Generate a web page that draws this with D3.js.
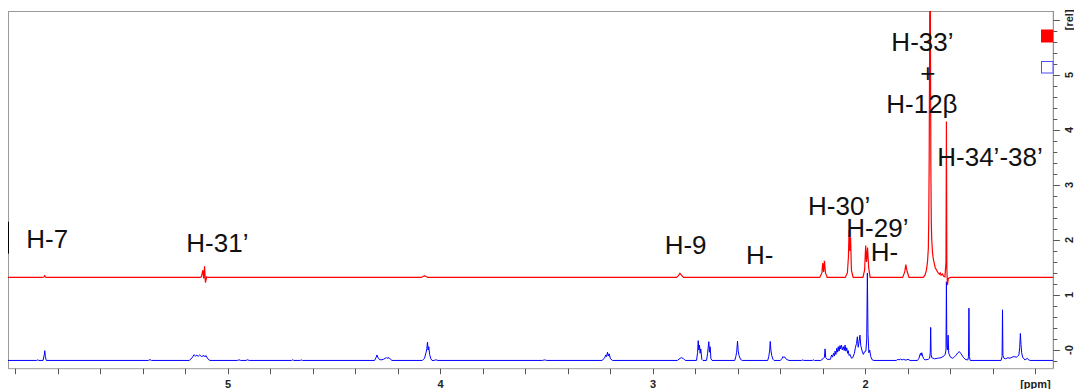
<!DOCTYPE html>
<html>
<head>
<meta charset="utf-8">
<script src="https://cdn.jsdelivr.net/npm/d3@7"></script>
<style>
  html, body { margin: 0; padding: 0; background: #fff; }
  svg { display: block; }
</style>
</head>
<body>
<svg id="chart" width="1074" height="389"></svg>
<script>
// ---- data (ppm, rel intensity) ----
var xTicks = [6.0, 5.8, 5.6, 5.4, 5.2, 5.0, 4.8, 4.6, 4.4, 4.2, 4.0, 3.8, 3.6, 3.4, 3.2, 3.0,
              2.8, 2.6, 2.4, 2.2, 2.0, 1.8, 1.6, 1.4, 1.2];
var xLabels = [{ v: 5, t: "5" }, { v: 4, t: "4" }, { v: 3, t: "3" }, { v: 2, t: "2" }, { v: 1.2, t: "[ppm]" }];
var yLabels = [{ v: 0, t: "-0" }, { v: 1, t: "1" }, { v: 2, t: "2" }, { v: 3, t: "3" },
               { v: 4, t: "4" }, { v: 5, t: "5" }, { v: 6, t: "[rel]" }];

// red trace (upper spectrum)
var redSpectrum = [
  [6.04, 1.318], [5.875, 1.318], [5.866, 1.325], [5.862, 1.349], [5.858, 1.322], [5.85, 1.318],
  [5.13, 1.318], [5.125, 1.33], [5.118, 1.45], [5.114, 1.30], [5.110, 1.52], [5.106, 1.225],
  [5.100, 1.33], [5.094, 1.318],
  [4.09, 1.318], [4.082, 1.335], [4.075, 1.345], [4.066, 1.335], [4.06, 1.318],
  [2.89, 1.318], [2.88, 1.35], [2.873, 1.395], [2.866, 1.36], [2.856, 1.318],
  [2.215, 1.318], [2.205, 1.40], [2.201, 1.58], [2.197, 1.42], [2.193, 1.62], [2.188, 1.40], [2.180, 1.318],
  [2.095, 1.318], [2.085, 1.40], [2.080, 1.70], [2.077, 2.18], [2.073, 1.80], [2.070, 2.05],
  [2.066, 1.45], [2.058, 1.318],
  [2.012, 1.318], [2.004, 1.45], [1.999, 1.90], [1.995, 1.60], [1.990, 1.86], [1.985, 1.50], [1.978, 1.318],
  [1.825, 1.318], [1.815, 1.42], [1.810, 1.55], [1.804, 1.43], [1.795, 1.318],
  [1.728, 1.318], [1.720, 1.36], [1.713, 1.45], [1.708, 1.60], [1.704, 1.85], [1.702, 2.4],
  [1.700, 3.5], [1.698, 5.5], [1.696, 8.0], [1.694, 5.5], [1.692, 3.2], [1.690, 2.3],
  [1.688, 2.0], [1.684, 1.75], [1.680, 1.64], [1.672, 1.50], [1.665, 1.45], [1.658, 1.40],
  [1.652, 1.38], [1.648, 1.40], [1.644, 1.36], [1.638, 1.38], [1.632, 1.34], [1.626, 1.33],
  [1.621, 1.6], [1.619, 4.15], [1.617, 1.5], [1.614, 1.18], [1.610, 1.30], [1.600, 1.318],
  [1.11, 1.318]
];

// blue trace (lower spectrum)
var blueSpectrum = [
  [6.04, -0.19], [5.90, -0.19], [5.895, -0.18], [5.89, -0.19],
  [5.87, -0.19], [5.864, -0.08], [5.862, -0.013], [5.859, -0.12], [5.855, -0.19],
  [5.375, -0.19], [5.367, -0.175], [5.36, -0.19],
  [5.182, -0.19], [5.168, -0.14], [5.160, -0.085], [5.153, -0.11], [5.146, -0.095], [5.140, -0.115],
  [5.133, -0.09], [5.124, -0.12], [5.113, -0.10], [5.108, -0.125], [5.104, -0.10], [5.095, -0.16], [5.085, -0.19],
  [4.955, -0.19], [4.948, -0.178], [4.940, -0.19], [4.915, -0.19], [4.908, -0.178], [4.90, -0.19],
  [4.70, -0.19], [4.695, -0.178], [4.69, -0.19], [4.66, -0.19], [4.655, -0.18], [4.65, -0.19],
  [4.31, -0.19], [4.302, -0.13], [4.299, -0.09], [4.295, -0.13], [4.288, -0.17], [4.28, -0.18],
  [4.268, -0.17], [4.260, -0.15], [4.254, -0.14], [4.248, -0.15], [4.242, -0.14], [4.235, -0.17], [4.228, -0.19],
  [4.085, -0.19], [4.075, -0.15], [4.068, -0.05], [4.064, 0.02], [4.061, 0.145], [4.058, 0.0],
  [4.055, 0.06], [4.051, -0.08], [4.045, -0.16], [4.04, -0.19],
  [4.03, -0.19], [4.022, -0.178], [4.012, -0.19],
  [3.52, -0.19], [3.51, -0.18], [3.50, -0.19],
  [3.24, -0.19], [3.228, -0.15], [3.222, -0.09], [3.218, -0.12], [3.214, -0.04], [3.210, -0.11],
  [3.206, -0.07], [3.200, -0.16], [3.19, -0.19],
  [2.885, -0.19], [2.872, -0.15], [2.865, -0.14], [2.857, -0.155], [2.848, -0.19],
  [2.795, -0.19], [2.790, -0.05], [2.787, 0.17], [2.784, 0.0], [2.781, 0.09], [2.778, -0.06],
  [2.775, 0.02], [2.770, -0.17], [2.765, -0.19],
  [2.748, -0.19], [2.743, -0.07], [2.740, 0.05], [2.737, 0.15], [2.734, -0.04], [2.731, 0.06],
  [2.727, -0.16], [2.722, -0.19],
  [2.615, -0.19], [2.610, -0.12], [2.606, -0.04], [2.602, 0.16], [2.599, -0.01], [2.595, -0.10],
  [2.588, -0.17], [2.58, -0.19],
  [2.46, -0.19], [2.455, -0.12], [2.451, -0.02], [2.448, 0.155], [2.445, 0.0], [2.441, -0.10],
  [2.435, -0.17], [2.43, -0.19],
  [2.40, -0.19], [2.392, -0.15], [2.388, -0.12], [2.384, -0.14], [2.380, -0.125], [2.372, -0.17], [2.36, -0.19],
  [2.30, -0.19], [2.295, -0.18], [2.29, -0.19], [2.25, -0.19], [2.245, -0.18], [2.24, -0.19],
  [2.21, -0.19], [2.20, -0.16], [2.193, -0.13], [2.190, 0.02], [2.187, -0.14], [2.18, -0.17],
  [2.165, -0.17], [2.159, -0.09], [2.155, -0.13], [2.150, -0.06], [2.146, -0.11], [2.143, -0.02],
  [2.139, -0.08], [2.135, 0.03], [2.131, -0.04], [2.128, 0.06], [2.124, -0.02], [2.120, 0.08],
  [2.117, 0.02], [2.113, 0.09], [2.109, 0.0], [2.104, 0.06], [2.100, -0.01], [2.096, 0.09],
  [2.092, -0.02], [2.088, 0.04], [2.084, -0.06], [2.081, -0.01], [2.077, -0.10], [2.073, -0.08],
  [2.066, -0.15], [2.060, -0.14],
  [2.052, -0.06], [2.047, 0.05], [2.042, 0.12], [2.038, 0.24], [2.034, 0.05], [2.030, 0.15],
  [2.026, 0.27], [2.022, 0.08], [2.017, 0.0], [2.010, -0.08], [2.004, -0.03], [1.998, -0.02],
  [1.994, 0.2], [1.991, 1.40], [1.988, 0.3], [1.984, -0.05], [1.980, 0.0], [1.975, -0.12],
  [1.968, -0.18], [1.96, -0.19],
  [1.855, -0.19], [1.848, -0.17], [1.842, -0.18], [1.835, -0.165], [1.828, -0.18], [1.82, -0.17],
  [1.81, -0.185], [1.80, -0.17], [1.79, -0.19],
  [1.755, -0.19], [1.748, -0.15], [1.744, -0.09], [1.741, -0.06], [1.738, -0.10], [1.735, -0.05],
  [1.731, -0.11], [1.726, -0.16], [1.72, -0.18],
  [1.705, -0.17], [1.698, -0.15], [1.695, -0.05], [1.693, 0.41], [1.691, -0.08], [1.688, -0.14],
  [1.675, -0.16], [1.66, -0.15], [1.645, -0.14], [1.635, -0.12], [1.628, -0.10],
  [1.625, -0.08], [1.621, 0.0], [1.619, 1.24], [1.617, 0.1], [1.614, 0.0], [1.611, 0.27],
  [1.608, -0.06], [1.600, -0.13], [1.59, -0.15],
  [1.585, -0.14], [1.575, -0.10], [1.565, -0.05], [1.558, -0.03], [1.550, -0.07], [1.540, -0.13],
  [1.530, -0.17], [1.520, -0.18],
  [1.518, -0.18], [1.515, -0.12], [1.513, 0.76], [1.511, -0.12], [1.507, -0.19],
  [1.362, -0.19], [1.357, -0.12], [1.355, 0.73], [1.353, -0.10], [1.348, -0.15], [1.34, -0.16],
  [1.33, -0.14], [1.32, -0.15], [1.31, -0.13], [1.30, -0.12], [1.29, -0.13],
  [1.285, -0.12], [1.278, -0.09], [1.274, 0.05], [1.271, 0.30], [1.268, 0.10], [1.265, -0.05],
  [1.260, -0.13], [1.250, -0.18], [1.245, -0.17], [1.238, -0.15], [1.232, -0.18],
  [1.225, -0.19], [1.11, -0.19]
];

// peak annotations: text, ppm of left edge, rel of baseline
var peakNotes = [
  { t: "H-7", ppm: 5.949, v: 1.855 },
  { t: "H-31\u2019", ppm: 5.196, v: 1.787 },
  { t: "H-9", ppm: 2.945, v: 1.745 },
  { t: "H-", ppm: 2.562, v: 1.564 },
  { t: "H-30\u2019", ppm: 2.270, v: 2.455 },
  { t: "H-29\u2019", ppm: 2.090, v: 2.060 },
  { t: "H-", ppm: 1.975, v: 1.624 },
  { t: "H-33\u2019", ppm: 1.878, v: 5.436 },
  { t: "+", ppm: 1.706, v: 4.873, mid: true },
  { t: "H-12\u03b2", ppm: 1.902, v: 4.309 },
  { t: "H-34\u2019-38\u2019", ppm: 1.662, v: 3.336 }
];

// ---- drawing ----
var svg = d3.select("#chart");
// note: "top" is a reserved window property, so plot edges get their own names
var plotL = 8, plotR = 1053.3, plotT = 11, plotB = 368.7;

var x = d3.scaleLinear().domain([6.035, 1.116]).range([plotL, plotR]);
var y = d3.scaleLinear().domain([-0.34, 6.16]).range([plotB, plotT]);

svg.append("defs").append("clipPath").attr("id", "plotClip")
  .append("rect")
  .attr("x", plotL).attr("y", plotT)
  .attr("width", plotR - plotL).attr("height", plotB - plotT);

// frame
var frame = svg.append("g").attr("stroke", "#9a9a9a").attr("stroke-width", 1).attr("fill", "none");
frame.append("line").attr("x1", plotL).attr("x2", plotR).attr("y1", plotT + 0.5).attr("y2", plotT + 0.5);
frame.append("line").attr("x1", plotL + 0.5).attr("x2", plotL + 0.5).attr("y1", plotT).attr("y2", plotB);
frame.append("line").attr("x1", plotL).attr("x2", plotR).attr("y1", plotB).attr("y2", plotB);

var line = d3.line()
  .x(function (d) { return x(d[0]); })
  .y(function (d) { return y(d[1]); });

var traces = svg.append("g").attr("clip-path", "url(#plotClip)").attr("fill", "none");
traces.append("path")
  .datum(blueSpectrum)
  .attr("stroke", "#0000ff")
  .attr("stroke-width", 1)
  .attr("d", line);
traces.append("path")
  .datum(redSpectrum)
  .attr("stroke", "#ff0000")
  .attr("stroke-width", 1.2)
  .attr("d", line);

// cursor mark on the left edge
svg.append("line")
  .attr("x1", plotL + 0.5).attr("x2", plotL + 0.5)
  .attr("y1", y(2.33)).attr("y2", y(1.75))
  .attr("stroke", "#000").attr("stroke-width", 1);

// bottom axis (ppm)
var xAxis = svg.append("g");
xAxis.selectAll("line.tick")
  .data(xTicks)
  .join("line")
  .attr("class", "tick")
  .attr("x1", function (d) { return Math.round(x(d)) + 0.5; })
  .attr("x2", function (d) { return Math.round(x(d)) + 0.5; })
  .attr("y1", plotB)
  .attr("y2", plotB + 5.5)
  .attr("stroke", "#555");
xAxis.selectAll("text")
  .data(xLabels)
  .join("text")
  .attr("x", function (d) { return x(d.v); })
  .attr("y", 388)
  .attr("text-anchor", "middle")
  .attr("font-family", "'Liberation Sans', Arial, sans-serif")
  .attr("font-size", 11)
  .attr("font-weight", "bold")
  .attr("fill", "#222")
  .text(function (d) { return d.t; });

// right axis (rel)
var yAxis = svg.append("g");
yAxis.append("line")
  .attr("x1", plotR).attr("x2", plotR)
  .attr("y1", plotT).attr("y2", plotB)
  .attr("stroke", "#777");
var yTicks = d3.range(-1, 31).map(function (i) { return i / 5; });
yAxis.selectAll("line.tick")
  .data(yTicks)
  .join("line")
  .attr("class", "tick")
  .attr("x1", plotR)
  .attr("x2", function (d) { return Math.abs(d - Math.round(d)) < 1e-6 ? plotR + 6.5 : plotR + 4; })
  .attr("y1", function (d) { return Math.round(y(d)) + 0.5; })
  .attr("y2", function (d) { return Math.round(y(d)) + 0.5; })
  .attr("stroke", "#555");
yAxis.selectAll("text")
  .data(yLabels)
  .join("text")
  .attr("transform", function (d) { return "translate(1072.5," + y(d.v) + ") rotate(-90)"; })
  .attr("text-anchor", "middle")
  .attr("font-family", "'Liberation Sans', Arial, sans-serif")
  .attr("font-size", 11)
  .attr("font-weight", "bold")
  .attr("fill", "#222")
  .text(function (d) { return d.t; });

// legend squares
svg.append("rect")
  .attr("x", 1041).attr("y", 29.5).attr("width", 12).attr("height", 13)
  .attr("fill", "#ff0000");
svg.append("rect")
  .attr("x", 1041.5).attr("y", 61.5).attr("width", 11.5).attr("height", 11.5)
  .attr("fill", "#fff").attr("stroke", "#4f4fff").attr("stroke-width", 1);

// peak labels
svg.append("g")
  .selectAll("text")
  .data(peakNotes)
  .join("text")
  .attr("x", function (d) { return x(d.ppm); })
  .attr("y", function (d) { return y(d.v); })
  .attr("text-anchor", function (d) { return d.mid ? "middle" : "start"; })
  .attr("font-family", "'Liberation Sans', Arial, sans-serif")
  .attr("font-size", 26)
  .attr("fill", "#111")
  .text(function (d) { return d.t; });
</script>
</body>
</html>
